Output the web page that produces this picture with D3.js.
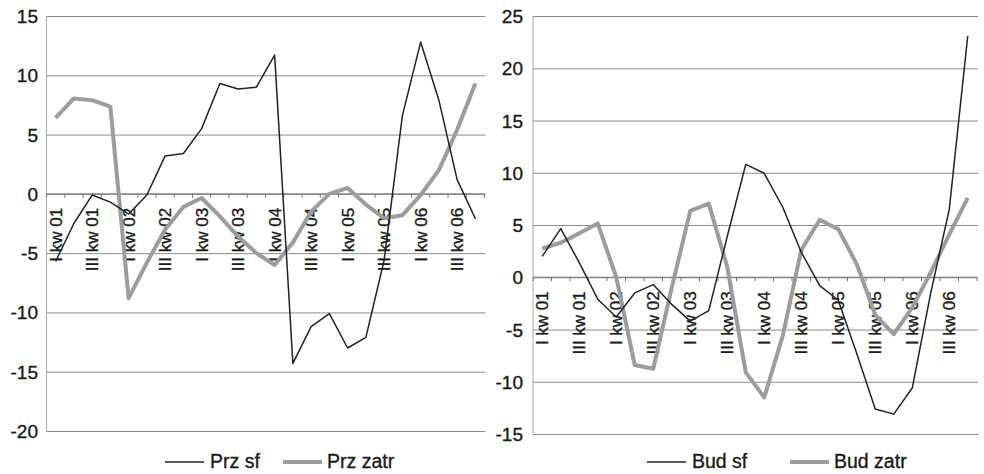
<!DOCTYPE html>
<html>
<head>
<meta charset="utf-8">
<script src="https://cdn.jsdelivr.net/npm/d3@7/dist/d3.min.js"></script>
<style>
  html, body { margin: 0; padding: 0; background: #fff; }
  svg { display: block; }
  text { font-family: "Liberation Sans", Arial, sans-serif; fill: #1a1a1a; stroke: #1a1a1a; stroke-width: 0.35; }
</style>
</head>
<body>
<svg id="chart" width="984" height="474"></svg>
<script>
const categories = [
  "I kw 01","II kw 01","III kw 01","IV kw 01",
  "I kw 02","II kw 02","III kw 02","IV kw 02",
  "I kw 03","II kw 03","III kw 03","IV kw 03",
  "I kw 04","II kw 04","III kw 04","IV kw 04",
  "I kw 05","II kw 05","III kw 05","IV kw 05",
  "I kw 06","II kw 06","III kw 06","IV kw 06"
];
const shownLabels = [
  "I kw 01","III kw 01","I kw 02","III kw 02","I kw 03","III kw 03",
  "I kw 04","III kw 04","I kw 05","III kw 05","I kw 06","III kw 06"
];

const przSf   = [-5.7, -2.5, -0.1, -0.7, -1.7, -0.1, 3.2, 3.4, 5.5, 9.3, 8.85, 9.0,
                 11.7, -14.3, -11.2, -10.1, -13.0, -12.1, -5.6, 6.6, 12.8, 7.9, 1.2, -2.1];
const przZatr = [6.4, 8.05, 7.9, 7.35, -8.8, -5.8, -3.0, -1.1, -0.35, -1.9, -3.6, -5.0,
                 -6.0, -4.1, -1.5, 0.0, 0.5, -0.9, -2.05, -1.8, -0.1, 2.0, 5.4, 9.3];
const budSf   = [2.0, 4.65, 1.4, -2.1, -3.8, -1.5, -0.7, -2.6, -4.2, -3.2, 3.9, 10.8,
                 9.95, 6.7, 2.4, -0.8, -2.2, -7.3, -12.6, -13.1, -10.6, -1.5, 6.5, 23.1];
const budZatr = [2.75, 3.3, 4.2, 5.15, 0.0, -8.4, -8.75, -1.0, 6.35, 7.05, 1.0, -9.1,
                 -11.5, -5.6, 2.6, 5.5, 4.6, 1.25, -3.6, -5.45, -2.9, 0.45, 4.1, 7.6];

const leftTicks  = [-20, -15, -10, -5, 0, 5, 10, 15];
const rightTicks = [-15, -10, -5, 0, 5, 10, 15, 20, 25];

const leftLegend  = ["Prz sf", "Prz zatr"];
const rightLegend = ["Bud sf", "Bud zatr"];

const svg = d3.select("#chart");
const BLACK = "#222", GRAY = "#9c9c9c", GRID = "#8a8a8a";

function panel(cfg) {
  const g = svg.append("g");
  const x = d3.scaleBand().domain(categories).range([cfg.x0, cfg.x1]);
  const y = d3.scaleLinear().domain([cfg.ticks[0], cfg.ticks[cfg.ticks.length - 1]])
              .range([cfg.yBottom, cfg.yTop]);
  const cx = c => x(c) + x.bandwidth() / 2;

  // gridlines
  g.append("g").call(
      d3.axisLeft(y).tickValues(cfg.ticks).tickSize(-(cfg.x1 - cfg.x0 + 1)).tickFormat(""))
    .attr("transform", `translate(${cfg.x0},0)`)
    .call(s => s.select(".domain").remove())
    .call(s => s.selectAll("line").attr("stroke", GRID).attr("stroke-width", 1));

  // y axis line
  g.append("line").attr("x1", cfg.x0).attr("x2", cfg.x0)
    .attr("y1", y(cfg.ticks[cfg.ticks.length - 1])).attr("y2", y(cfg.ticks[0]))
    .attr("stroke", "#a8a8a8").attr("stroke-width", 1);

  // y tick labels
  g.selectAll(".ylab").data(cfg.ticks).enter().append("text")
    .attr("x", cfg.labelX).attr("y", d => y(d) + 7)
    .attr("text-anchor", "end").attr("font-size", 19)
    .text(d => d);

  // zero axis with small ticks at category boundaries
  const y0 = y(0);
  g.append("line").attr("x1", cfg.x0).attr("x2", cfg.x1)
    .attr("y1", y0).attr("y2", y0).attr("stroke", "#777").attr("stroke-width", 1);
  g.selectAll(".tk").data(categories.concat(["end"])).enter().append("line")
    .attr("x1", d => d === "end" ? cfg.x1 : x(d))
    .attr("x2", d => d === "end" ? cfg.x1 : x(d))
    .attr("y1", y0).attr("y2", y0 + 4).attr("stroke", "#777");

  // category labels (vertical)
  g.selectAll(".xlab").data(shownLabels).enter().append("text")
    .attr("transform", d => `translate(${cx(d) + 6},${y0 + 14}) rotate(-90)`)
    .attr("text-anchor", "end").attr("font-size", 17)
    .text(d => d);

  const line = d3.line().x((d, i) => cx(categories[i])).y(d => y(d));
  g.append("path").datum(cfg.zatr).attr("d", line)
    .attr("fill", "none").attr("stroke", GRAY).attr("stroke-width", 4)
    .attr("stroke-linejoin", "round");
  g.append("path").datum(cfg.sf).attr("d", line)
    .attr("fill", "none").attr("stroke", BLACK).attr("stroke-width", 1.5)
    .attr("stroke-linejoin", "round");

  // legend
  const lg = g.append("g");
  const ly = cfg.legendY;
  lg.append("line").attr("x1", cfg.leg[0]).attr("x2", cfg.leg[0] + 39)
    .attr("y1", ly).attr("y2", ly).attr("stroke", BLACK).attr("stroke-width", 1.5);
  lg.append("text").attr("x", cfg.leg[0] + 45).attr("y", ly + 6).attr("font-size", 19.5)
    .text(cfg.legendNames[0]);
  lg.append("line").attr("x1", cfg.leg[1]).attr("x2", cfg.leg[1] + 39)
    .attr("y1", ly).attr("y2", ly).attr("stroke", GRAY).attr("stroke-width", 4);
  lg.append("text").attr("x", cfg.leg[1] + 44).attr("y", ly + 6).attr("font-size", 19.5)
    .text(cfg.legendNames[1]);
}

panel({
  x0: 46.5, x1: 484.5, yTop: 16, yBottom: 431, labelX: 38,
  ticks: leftTicks, sf: przSf, zatr: przZatr,
  leg: [165, 283], legendY: 462, legendNames: leftLegend
});
panel({
  x0: 533, x1: 977, yTop: 16, yBottom: 434, labelX: 523,
  ticks: rightTicks, sf: budSf, zatr: budZatr,
  leg: [647, 790], legendY: 462, legendNames: rightLegend
});
</script>
</body>
</html>
